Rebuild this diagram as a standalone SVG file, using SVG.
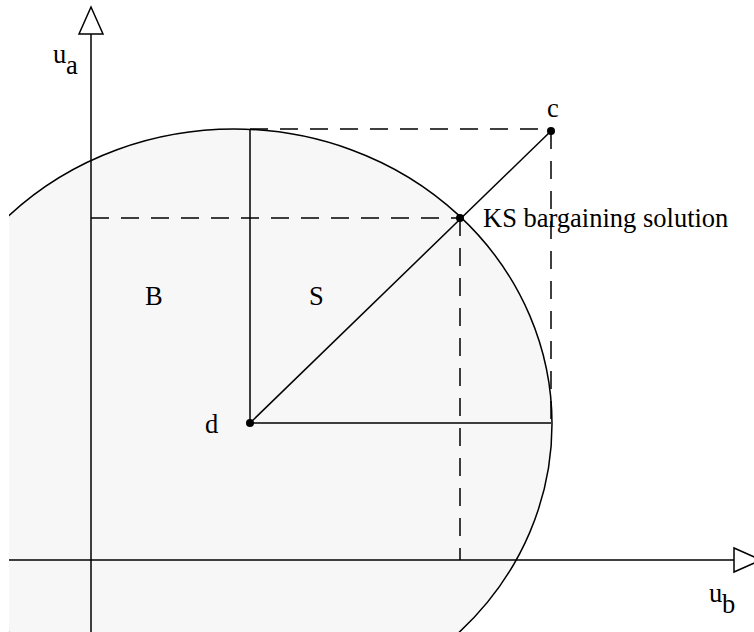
<svg xmlns="http://www.w3.org/2000/svg" width="754" height="632" viewBox="0 0 754 632">
<style>
.ln{stroke:#000;stroke-width:1.5;fill:none}
.ds{stroke:#000;stroke-width:1.5;fill:none;stroke-dasharray:18 12}
.t{font-family:"Liberation Serif","Times New Roman",serif;font-size:26.5px;fill:#000}
.ar{fill:#fff;stroke:#000;stroke-width:1.5}
</style>
<defs>
<clipPath id="clip"><rect x="9" y="0" width="745" height="632"/></clipPath>
</defs>
<rect width="754" height="632" fill="#fff"/>
<g id="region">
<ellipse cx="234" cy="424" rx="318" ry="295" fill="#f7f7f7" stroke="#000" stroke-width="1.5" clip-path="url(#clip)"/>
</g>
<g id="connectors">
<line class="ln" x1="91" y1="34" x2="91" y2="632"/>
<line class="ln" x1="9" y1="560" x2="734" y2="560"/>
<polygon class="ar" points="91,7 79,34 103,34"/>
<polygon class="ar" points="761,560 734,548 734,572"/>
<line class="ln" x1="250" y1="129" x2="250" y2="423"/>
<line class="ln" x1="250" y1="423" x2="551" y2="423"/>
<line class="ln" x1="250" y1="423" x2="551" y2="131"/>
<line class="ds" x1="250" y1="129" x2="551" y2="129"/>
<line class="ds" x1="551" y1="131" x2="551" y2="423"/>
<line class="ds" x1="91" y1="218" x2="460" y2="218"/>
<line class="ds" x1="460" y1="218" x2="460" y2="560"/>
</g>
<g id="d"><circle cx="250" cy="423" r="4"/><text class="t" x="205" y="433">d</text></g>
<g id="c"><circle cx="551" cy="131" r="4"/><text class="t" x="547" y="117">c</text></g>
<g id="ks"><circle cx="460" cy="218" r="4"/><text class="t" x="483" y="227">KS bargaining solution</text></g>
<g id="B"><text class="t" x="145" y="305">B</text></g>
<g id="S"><text class="t" x="309" y="305">S</text></g>
<g id="ua"><text class="t" x="53" y="63">u</text><text class="t" x="66" y="74">a</text></g>
<g id="ub"><text class="t" x="709" y="602">u</text><text class="t" x="722" y="613">b</text></g>
</svg>
